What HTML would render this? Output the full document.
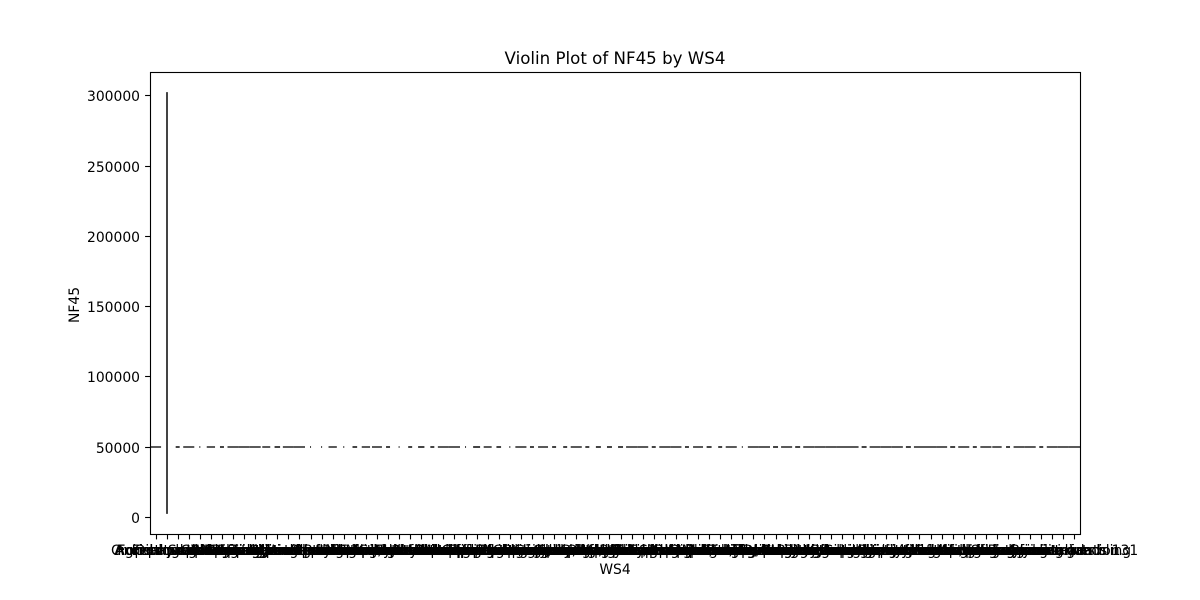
<!DOCTYPE html>
<html lang="en">
<head>
<meta charset="utf-8">
<title>Violin Plot of NF45 by WS4</title>
<style>
  html, body { margin: 0; padding: 0; background: #ffffff; }
  svg { display: block; font-family: "DejaVu Sans", "Liberation Sans", sans-serif; }
</style>
</head>
<body>
<svg id="chart" xmlns="http://www.w3.org/2000/svg" width="1200" height="600" viewBox="0 0 1200 600">
  <rect x="0" y="0" width="1200" height="600" fill="#ffffff"/>
  <defs>
    <clipPath id="plot-clip"><rect x="150" y="72" width="930" height="462"/></clipPath>
  </defs>
  <text x="615" y="64" font-size="16.67" text-anchor="middle" fill="#000">Violin Plot of NF45 by WS4</text>
  <text x="615" y="574" font-size="13.89" text-anchor="middle" fill="#000">WS4</text>
  <text x="0" y="0" transform="translate(79 305) rotate(-90)" font-size="13.89" text-anchor="middle" fill="#000">NF45</text>
  <g id="violins" clip-path="url(#plot-clip)"></g>
  <g id="x-ticks"></g>
  <g id="y-ticks"></g>
  <rect x="150.5" y="72.5" width="930" height="462" fill="none" stroke="#000" stroke-width="1.11"/>
</svg>
<script>
const categories = [
  "Agricultural", "Crop production", "Animal production", "Forestry and logging", "Fishing and hunting", "Oil and gas extraction", "Coal mining", "Support for mining",
  "Electric utilities", "Water and sewage", "Natural gas supply", "Building construction", "Heavy civil construction work", "Specialty trade contractors", "Food manufacturing plants", "Beverage and tobacco products",
  "Textile mills and product mills", "Apparel manufacturing, cut and sew", "Leather and allied products", "Wood products manufacturing", "Paper manufacturing and converting", "Printing and related support", "Petroleum and coal refining", "Chemical products manufacturing",
  "Plastics and rubber products", "Nonmetallic mineral products", "Primary metals manufacturing", "Fabricated metal product makers", "Machinery manufacturing, general", "Computer and electronic products", "Electrical equipment, appliances", "Motor vehicles and parts, assembly",
  "Aerospace and transport products", "Furniture and related products", "Medical equipment and supplies", "Durable goods merchant wholesalers", "Grocery and related wholesalers", "Motor vehicle and parts dealers", "Furniture and home furnishing stores", "Electronics and appliance stores",
  "Building material, garden supplies", "Grocery and specialty food stores", "Pharmacy, health and drug stores", "Gasoline stations and fuel dealers", "Clothing and accessories stores", "Sporting goods, hobby and music", "General merchandise retailers", "Online shopping and mail order",
  "Air transportation, scheduled", "Rail transportation, line haul", "Water transportation, coastal", "Truck transportation, long haul", "Transit and ground passenger", "Pipeline transportation, gas", "Scenic and sightseeing transport", "Postal service and mail delivery",
  "Couriers and local messengers", "Warehousing, storage and logistics", "Publishing industry, newspapers", "Motion pictures and sound recording", "Broadcasting, radio and television", "Telecommunications, wired carriers", "Data processing and hosting", "Monetary authorities, central bank",
  "Credit intermediation, lending", "Securities and investment funds", "Real estate agency and brokers", "Rental and leasing of equipment", "Legal services and law offices", "Accounting, payroll and bookkeeping", "Computer systems design services", "Consulting services, management",
  "Scientific research and labs", "Advertising agency", "Waste management", "Educational services", "Ambulatory care", "Hospitals (general)", "Nursing facilities", "Social assistance",
  "Performing arts", "Amusement, gambling", "Accommodation", "Pension funds 131"
];

const centerValues = [
  50000, 50000, 50000, 50000, 50000, 50000, 50000, 50000, 50000, 50000, 50000, 50000, 50000, 50000,
  50000, 50000, 50000, 50000, 50000, 50000, 50000, 50000, 50000, 50000, 50000, 50000, 50000, 50000,
  50000, 50000, 50000, 50000, 50000, 50000, 50000, 50000, 50000, 50000, 50000, 50000, 50000, 50000,
  50000, 50000, 50000, 50000, 50000, 50000, 50000, 50000, 50000, 50000, 50000, 50000, 50000, 50000,
  50000, 50000, 50000, 50000, 50000, 50000, 50000, 50000, 50000, 50000, 50000, 50000, 50000, 50000,
  50000, 50000, 50000, 50000, 50000, 50000, 50000, 50000, 50000, 50000, 50000, 50000, 50000, 50000
];

const violinWidths = [
  1.0, 0, 0.36, 1.0, 0.09, 0.75, 0.36, 1.0, 1.0, 1.0, 0.72, 0.5, 1.0, 1.0,
  0.09, 0.09, 0.75, 0.09, 0.42, 0.75, 0.9, 0.36, 0.09, 0.36, 0.57, 0.36, 1.0, 1.0,
  0.09, 0.63, 0.72, 0.42, 0.09, 1.0, 0.36, 0.9, 0.36, 0.36, 1.0, 0.36, 0.45, 0.45,
  0.45, 1.0, 1.0, 0.36, 1.0, 1.0, 0.36, 0.9, 0.45, 0.36, 1.0, 0.09, 1.0, 1.0,
  0.45, 1.0, 0.45, 1.0, 1.0, 1.0, 1.0, 1.0, 0.45, 1.0, 1.0, 1.0, 0.45, 1.0,
  1.0, 1.0, 0.45, 1.0, 0.36, 1.0, 0.85, 0.36, 1.0, 1.0, 0.36, 1.0, 1.0, 1.0
];

const spikeCategories = ["Crop production"];
const spikeLows = [2500];
const spikeHighs = [302800];

const yTickValues = [0, 50000, 100000, 150000, 200000, 250000, 300000];

const SVG_NS = "http://www.w3.org/2000/svg";
const plotLeft = 150;
const plotWidth = 930;
const zeroY = 517.4;
const pixelsPerUnit = 421.4 / 300000;

function xScale(index) {
  return plotLeft + plotWidth * (index + 0.5) / categories.length;
}
function bandWidth() {
  return plotWidth / categories.length;
}
function yScale(value) {
  return zeroY - value * pixelsPerUnit;
}
function snap(position) {
  return Math.floor(position + 0.5) + 0.5;
}
function makeLine(x1, y1, x2, y2, stroke, width) {
  const line = document.createElementNS(SVG_NS, "line");
  line.setAttribute("x1", x1);
  line.setAttribute("y1", y1);
  line.setAttribute("x2", x2);
  line.setAttribute("y2", y2);
  line.setAttribute("stroke", stroke);
  line.setAttribute("stroke-width", width);
  return line;
}

const violinGroup = document.getElementById("violins");
const xTickGroup = document.getElementById("x-ticks");
const yTickGroup = document.getElementById("y-ticks");

categories.forEach(function (label, i) {
  const cx = xScale(i);
  const half = violinWidths[i] * bandWidth() / 2;
  if (half > 0) {
    const cy = Math.round(yScale(centerValues[i]));
    const tone = violinWidths[i] >= 0.7 ? "#5a5a5a" : "#444444";
    const mark = makeLine(cx - half, cy, cx + half, cy, tone, 2);
    
    
    violinGroup.appendChild(mark);
  }

  const tx = snap(cx);
  const tick = makeLine(tx, 534.5, tx, 539.4, "#000", 1.11);
  
  
  xTickGroup.appendChild(tick);

  const text = document.createElementNS(SVG_NS, "text");
  text.setAttribute("x", cx);
  text.setAttribute("y", 555);
  text.setAttribute("font-size", "13.89");
  text.setAttribute("text-anchor", "middle");
  text.setAttribute("fill", "#000");
  
  
  text.textContent = label;
  xTickGroup.appendChild(text);
});

spikeCategories.forEach(function (name, s) {
  const cx = Math.round(xScale(categories.indexOf(name)));
  const spike = makeLine(cx, yScale(spikeLows[s]), cx, yScale(spikeHighs[s]), "#444444", 2);
  
  
  violinGroup.appendChild(spike);
});

yTickValues.forEach(function (value) {
  const ty = snap(yScale(value) - 0.5);
  const tick = makeLine(145.1, ty, 150, ty, "#000", 1.11);
  
  
  yTickGroup.appendChild(tick);

  const text = document.createElementNS(SVG_NS, "text");
  text.setAttribute("x", 140);
  text.setAttribute("y", ty + 5.5);
  text.setAttribute("font-size", "13.89");
  text.setAttribute("text-anchor", "end");
  text.setAttribute("fill", "#000");
  
  
  text.textContent = String(value);
  yTickGroup.appendChild(text);
});
</script>
</body>
</html>
